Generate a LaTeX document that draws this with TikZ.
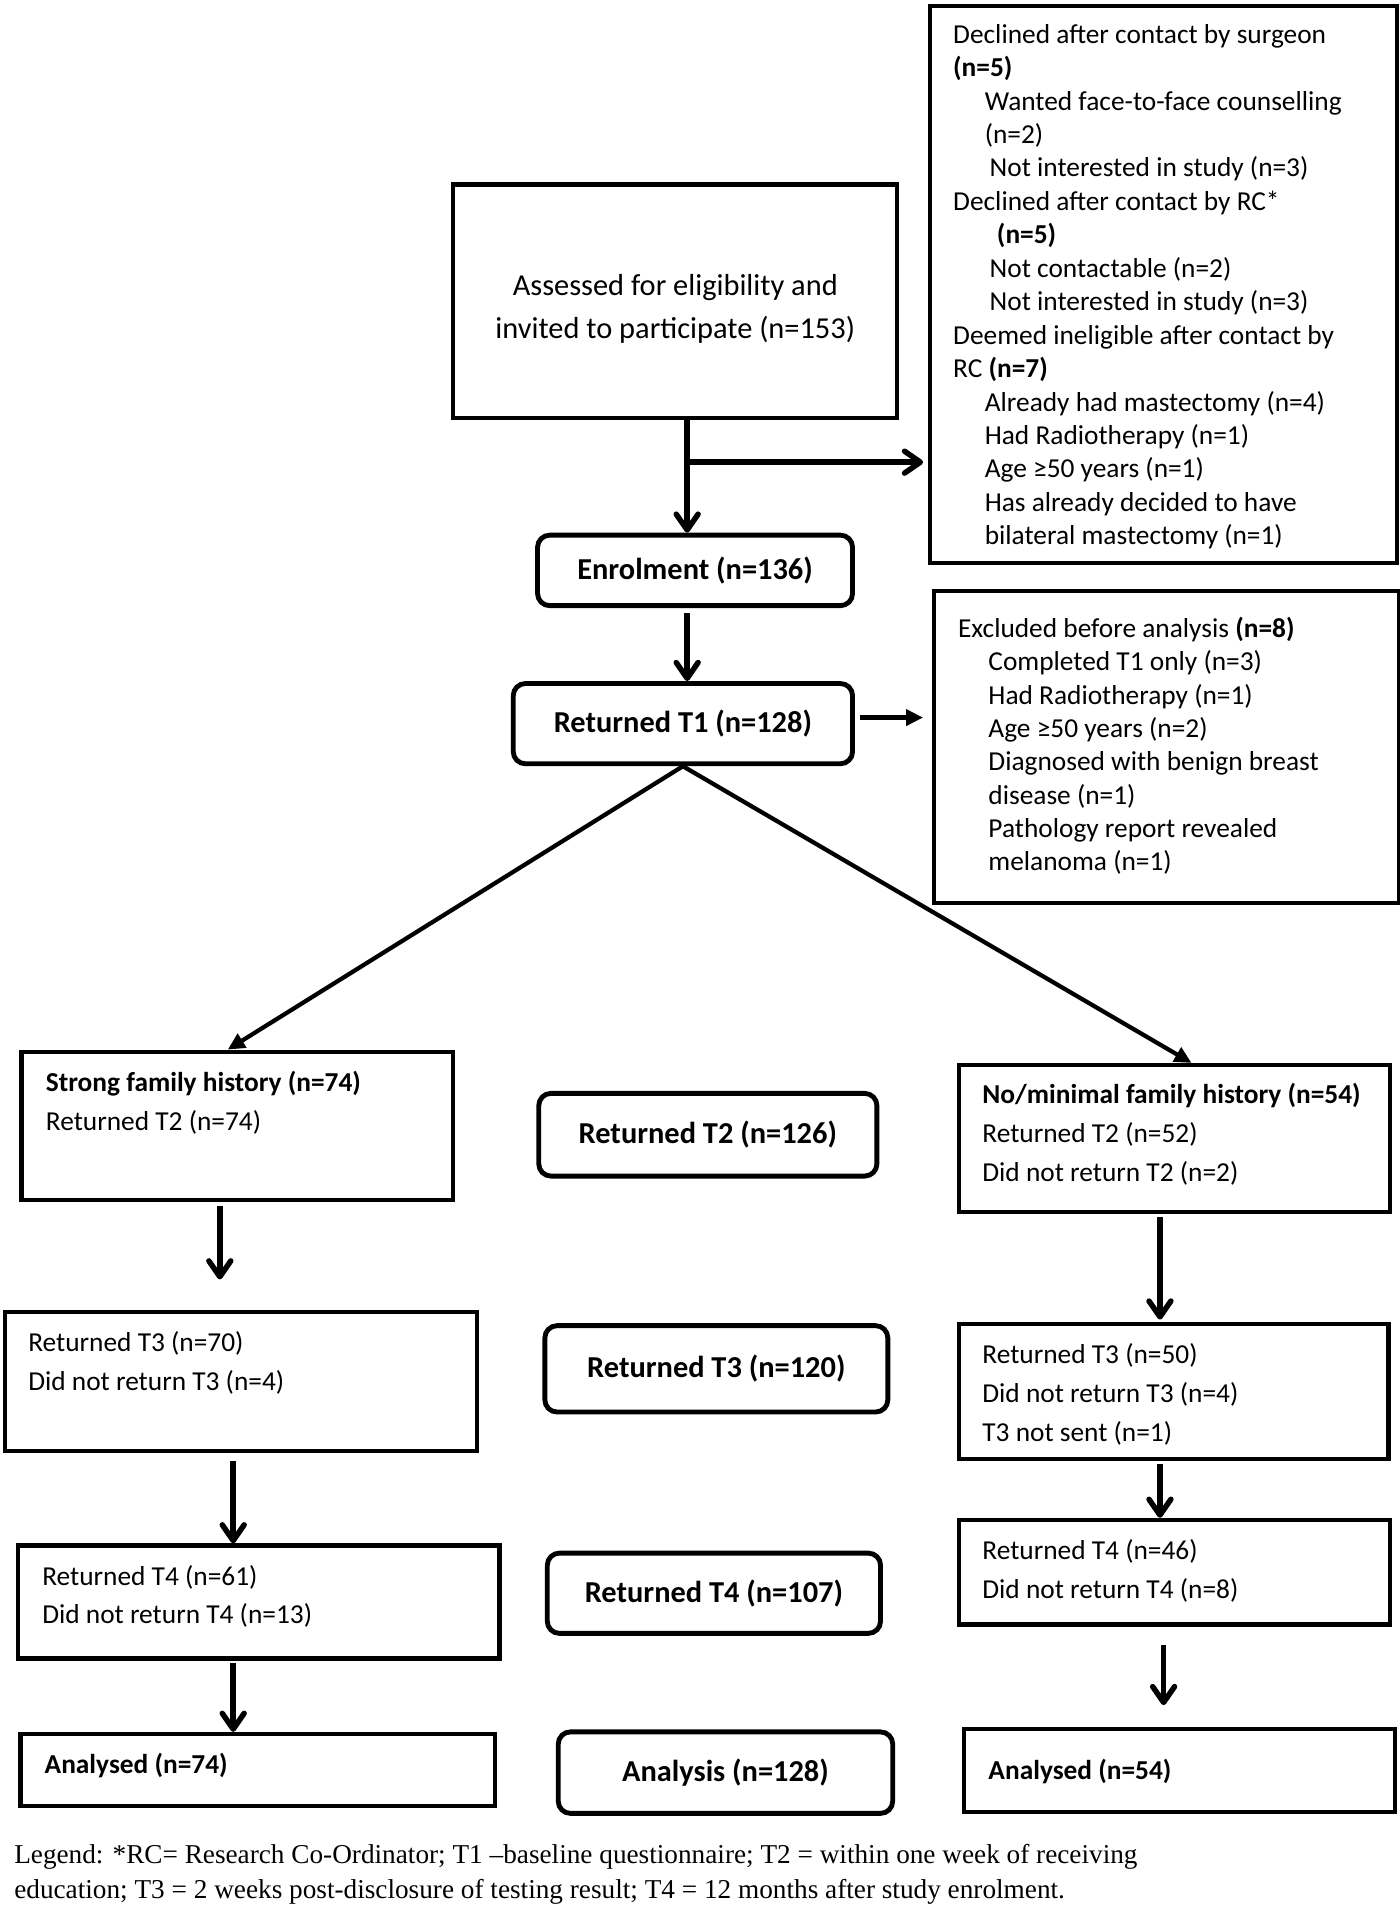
\documentclass[tikz,border=0pt]{standalone}
\usepackage{fontspec}
\setmainfont{Carlito}
\newfontfamily\legendfont{Liberation Serif}
\usetikzlibrary{arrows.meta,positioning}
\newcommand\indt[1][26]{\hspace*{#1pt}}

\begin{document}
\begin{tikzpicture}[x=1pt,y=-1pt,every path/.style={line width=3.5pt}]
  \tikzstyle{sqbox} = [draw,inner sep=0pt,anchor=north west];
  \tikzset{rbox/.style={draw,rounded corners=10pt,line width=4pt,font=\bfseries\fontsize{25}{30}\selectfont}};
  \tikzset{txt/.style={inner sep=0pt,align=left,font=\fontsize{22.5}{32}\selectfont}};
  \tikzset{flow/.style={line width=4.5pt,-{Straight Barb[length=13pt,width=18pt,line cap=round,line join=round]}},
           tri/.style={line width=3.5pt,-{Triangle[length=14pt,width=13pt]}}};
  \useasboundingbox (0,0) rectangle (1151,1568);

  % enrolment
  \node[sqbox,minimum width=365,minimum height=192] (assess) at (371,150) {};
  \node[align=center,inner sep=0pt,font=\fontsize{25}{35}\selectfont] (assess-t) at ([yshift=-6pt]assess.center) {Assessed for eligibility and\\invited to participate (n=153)};
  \node[sqbox,minimum width=384,minimum height=458] (decline) at (763,3) {};
  \node[txt,font=\fontsize{22.5}{27.5}\selectfont,below right=11.5pt and 19pt of decline.north west] (decline-t)
    {\strut Declined after contact by surgeon\\\textbf{(n=5)}\\\indt Wanted face-to-face counselling\\\indt(n=2)\\\indt[30]Not interested in study (n=3)\\
     Declined after contact by RC*\\\indt[36]\textbf{(n=5)}\\\indt[30]Not contactable (n=2)\\\indt[30]Not interested in study (n=3)\\
     Deemed ineligible after contact by\\RC \textbf{(n=7)}\\\indt Already had mastectomy (n=4)\\\indt Had Radiotherapy (n=1)\\
     \indt Age ≥50 years (n=1)\\\indt Has already decided to have\\\indt bilateral mastectomy (n=1)};
  \node[rbox,minimum width=259,minimum height=58] (enrol) at (571.5,469) {Enrolment (n=136)};
  \node[rbox,minimum width=279,minimum height=66] (ret1) at (561.5,595) {Returned T1 (n=128)};
  \node[sqbox,minimum width=383,minimum height=257] (excl) at (766,484) {};
  \node[txt,font=\fontsize{22.5}{27.4}\selectfont,below right=19.3pt and 20pt of excl.north west] (excl-t)
    {\strut Excluded before analysis \textbf{(n=8)}\\\indt[25]Completed T1 only (n=3)\\\indt[25]Had Radiotherapy (n=1)\\\indt[25]Age ≥50 years (n=2)\\
     \indt[25]Diagnosed with benign breast\\\indt[25]disease (n=1)\\\indt[25]Pathology report revealed\\\indt[25]melanoma (n=1)};

  % follow-up, by group
  \node[sqbox,minimum width=355,minimum height=122] (strong) at (16,863) {};
  \node[txt,below right=10.1pt and 20pt of strong.north west] (strong-t) {\strut\textbf{Strong family history (n=74)}\\Returned T2 (n=74)};
  \node[rbox,minimum width=278,minimum height=68] (ret2) at (582,933) {Returned T2 (n=126)};
  \node[sqbox,minimum width=354,minimum height=121] (nomin) at (787,874) {};
  \node[txt,below right=9.1pt and 19pt of nomin.north west] (nomin-t) {\strut\textbf{No/minimal family history (n=54)}\\Returned T2 (n=52)\\Did not return T2 (n=2)};

  \node[sqbox,minimum width=388,minimum height=114] (lt3) at (2.5,1077) {};
  \node[txt,below right=10.1pt and 19pt of lt3.north west] (lt3-t) {\strut Returned T3 (n=70)\\Did not return T3 (n=4)};
  \node[rbox,minimum width=282,minimum height=71] (ret3) at (589,1125.5) {Returned T3 (n=120)};
  \node[sqbox,minimum width=353,minimum height=111] (rt3) at (787,1087) {};
  \node[txt,below right=10.1pt and 19pt of rt3.north west] (rt3-t) {\strut Returned T3 (n=50)\\Did not return T3 (n=4)\\T3 not sent (n=1)};

  \node[sqbox,minimum width=396,minimum height=93] (lt4) at (13,1269) {};
  \node[txt,below right=10.1pt and 20pt of lt4.north west] (lt4-t) {\strut Returned T4 (n=61)\\Did not return T4 (n=13)};
  \node[rbox,minimum width=274,minimum height=66] (ret4) at (587,1310) {Returned T4 (n=107)};
  \node[sqbox,minimum width=354,minimum height=86] (rt4) at (787,1248) {};
  \node[txt,below right=10.1pt and 19pt of rt4.north west] (rt4-t) {\strut Returned T4 (n=46)\\Did not return T4 (n=8)};

  \node[sqbox,minimum width=390,minimum height=59] (an74) at (15,1424) {};
  \node[txt,below right=10.1pt and 20pt of an74.north west] (an74-t) {\strut\textbf{Analysed (n=74)}};
  \node[rbox,minimum width=275,minimum height=67] (anl) at (596.5,1457.5) {Analysis (n=128)};
  \node[sqbox,minimum width=354,minimum height=68] (an54) at (791,1420) {};
  \node[txt,below right=19.1pt and 20pt of an54.north west] (an54-t) {\strut\textbf{Analysed (n=54)}};

  \node[anchor=base west,inner sep=0pt,align=left,font=\legendfont\fontsize{22.4}{29}\selectfont] (legend) at (10,1561)
    {Legend: *RC= Research Co-Ordinator; T1 –baseline questionnaire; T2 = within one week of receiving\\
     education; T3 = 2 weeks post-disclosure of testing result; T4 = 12 months after study enrolment.};

  % connectors
  \coordinate (split) at (565,380);
  \draw[flow] (assess.south -| split) -- (enrol.north -| split);
  \draw[flow,shorten >=4pt] (split) -- (decline.west |- split);
  \draw[flow,shorten <=4pt] (enrol.south -| split) -- (ret1.north -| split);
  \draw[tri,shorten <=4pt,shorten >=7pt] ([yshift=5pt]ret1.east) -- ([yshift=5pt]ret1.east -| excl.west);
  \draw[tri] (ret1.south) -- ([xshift=-8pt]strong.north);
  \draw[tri] (ret1.south) -- ([xshift=14pt]nomin.north);
  \draw[flow,shorten <=3pt] ([xshift=-14.5pt]strong.south) -- ([xshift=-17.5pt,yshift=25pt]lt3.north);
  \draw[flow,shorten <=7pt] ([xshift=-6.5pt]lt3.south) -- ([xshift=-21pt]lt4.north);
  \draw[flow,shorten <=2pt] ([xshift=-21pt]lt4.south) -- ([xshift=-20pt]an74.north);
  \draw[flow,shorten <=2pt,shorten >=2pt] ([xshift=-12pt]nomin.south) -- ([xshift=-11.5pt]rt3.north);
  \draw[flow,shorten <=2pt] ([xshift=-11.5pt]rt3.south) -- ([xshift=-12pt]rt4.north);
  \draw[flow,shorten <=15pt,shorten >=18pt] ([xshift=-9pt]rt4.south) -- ([xshift=-13pt]an54.north);
\end{tikzpicture}
\end{document}
